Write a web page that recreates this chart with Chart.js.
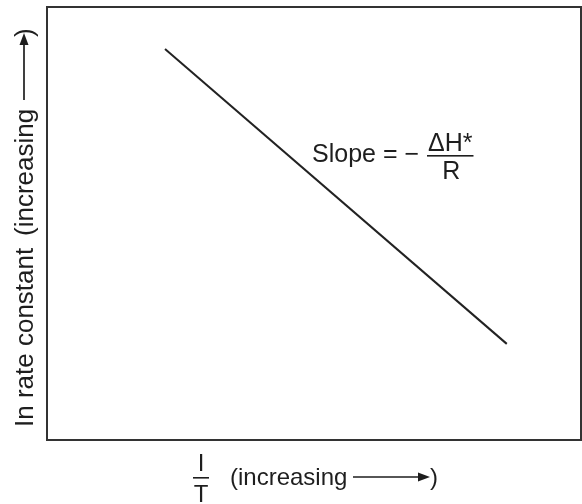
<!DOCTYPE html>
<html>
<head>
<meta charset="utf-8">
<script src="https://cdn.jsdelivr.net/npm/chart.js@4.4.1/dist/chart.umd.min.js"></script>
<style>
  body { margin: 0; background: #fff; }
  canvas { display: block; }
</style>
</head>
<body>
<canvas id="myChart" width="582" height="504"></canvas>
<script>
'use strict';
// 1/T (arbitrary units) vs ln k (arbitrary units), two ends of the straight line
const xValues = [2.21, 8.61];
const yValues = [9.03, 2.22];
const xLabel = '(increasing';
const yLabel = 'In rate constant';
const slopeText = 'Slope = \u2212';
const slopeNum = '\u0394H*';
const slopeDen = 'R';

const FONT = '"Liberation Sans", Arial, Helvetica, sans-serif';

function arrow(ctx, x0, x1, y) {
  ctx.beginPath();
  ctx.moveTo(x0, y);
  ctx.lineTo(x1 - 10, y);
  ctx.lineWidth = 1.7;
  ctx.stroke();
  ctx.beginPath();
  ctx.moveTo(x1, y);
  ctx.lineTo(x1 - 12, y - 4.5);
  ctx.lineTo(x1 - 12, y + 4.5);
  ctx.closePath();
  ctx.fill();
}

const labels = {
  id: 'labels',
  afterDraw(chart) {
    const ctx = chart.ctx;
    const a = chart.chartArea;
    ctx.save();
    ctx.strokeStyle = '#333';
    ctx.lineWidth = 2;
    ctx.strokeRect(a.left, a.top, a.right - a.left, a.bottom - a.top);

    ctx.fillStyle = '#1e1e1e';
    ctx.strokeStyle = '#1e1e1e';
    ctx.textBaseline = 'alphabetic';

    // slope annotation
    ctx.font = '25px ' + FONT;
    ctx.textAlign = 'left';
    ctx.fillText(slopeText, 312, 162);
    const nw = ctx.measureText(slopeNum).width;
    ctx.fillText(slopeNum, 428, 151);
    ctx.fillRect(427, 155, nw + 2, 1.6);
    ctx.textAlign = 'center';
    ctx.fillText(slopeDen, 428 + nw / 2 + 1, 179);

    // x axis label
    ctx.font = '24px ' + FONT;
    ctx.textAlign = 'center';
    ctx.fillText('I', 201, 471);
    ctx.fillRect(193, 477, 16, 1.6);
    ctx.fillText('T', 201, 502);
    ctx.textAlign = 'left';
    ctx.fillText(xLabel, 230, 485);
    arrow(ctx, 353, 430, 477);
    ctx.fillText(')', 430, 485);

    // y axis label
    ctx.translate(33, 0);
    ctx.rotate(-Math.PI / 2);
    ctx.font = '26px ' + FONT;
    ctx.textAlign = 'left';
    ctx.fillText(yLabel, -427, 0);
    ctx.fillText(xLabel, -236, 0);
    arrow(ctx, -100, -33, -9);
    ctx.fillText(')', -37, 0);
    ctx.restore();
  }
};

const ctx = document.getElementById('myChart').getContext('2d');
const myChart = new Chart(ctx, {
  type: 'line',
  data: {
    datasets: [{
      data: xValues.map((x, i) => ({ x: x, y: yValues[i] })),
      borderColor: '#222',
      borderWidth: 2,
      pointRadius: 0,
      fill: false
    }]
  },
  options: {
    responsive: false,
    animation: false,
    layout: { padding: { left: 47, top: 7, right: 1, bottom: 64 } },
    plugins: { legend: { display: false }, tooltip: { enabled: false } },
    scales: {
      x: { type: 'linear', min: 0, max: 10, display: false },
      y: { type: 'linear', min: 0, max: 10, display: false }
    }
  },
  plugins: [labels]
});
</script>
</body>
</html>
